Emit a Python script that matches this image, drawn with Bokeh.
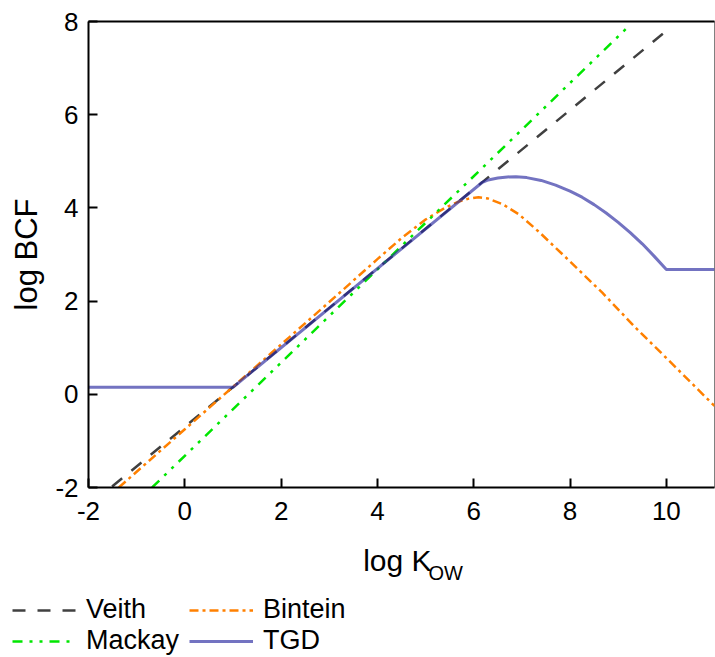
from bokeh.plotting import figure
from bokeh.layouts import column
from bokeh.models import Range1d, LinearAxis, FixedTicker, Legend, LegendItem, Label
from bokeh.embed import file_html
from bokeh.resources import INLINE

# ---- data ----
veith_x = [-1.51, 10.0]
veith_y = [-1.98, 7.80]

mackay_x = [-0.68, 9.21]
mackay_y = [-2.00, 7.89]

bintein_x = [-1.37, 0.0, 1.0, 2.0, 3.0, 4.0, 4.5, 5.0, 5.4, 5.7, 5.9, 6.1, 6.3, 6.6,
             6.94, 7.36, 7.98, 8.67, 9.36, 9.95, 11.0]
bintein_y = [-2.00, -0.75, 0.16, 1.07, 1.98, 2.90, 3.35, 3.75, 4.00, 4.14, 4.20, 4.23, 4.20, 4.08,
             3.86, 3.48, 2.87, 2.18, 1.43, 0.83, -0.25]

tgd_x = [-2.0, 1.0, 6.18, 6.3, 6.5, 6.7, 6.875, 7.1, 7.4, 7.7, 8.0, 8.25, 8.5, 8.75,
         9.0, 9.25, 9.5, 9.75, 10.0, 11.0]
tgd_y = [0.15, 0.15, 4.55, 4.60, 4.64, 4.665, 4.67, 4.65, 4.59, 4.49, 4.36, 4.23, 4.07, 3.89,
         3.69, 3.47, 3.23, 2.96, 2.68, 2.68]

x_ticks = [-2, 0, 2, 4, 6, 8, 10]
y_ticks = [-2, 0, 2, 4, 6, 8]

FONT = "Liberation Sans"

VEITH = dict(line_color="#404040", line_width=2.5, line_dash="13 12")
BINTEIN = dict(line_color="#ff8000", line_width=2.5, line_dash="9 4 3 4")
MACKAY = dict(line_color="#00e600", line_width=2.5, line_dash="10 7 3 7 3 7")
TGD = dict(line_color="#2828a0", line_alpha=0.65, line_width=3)

p = figure(width=715, height=532, x_range=Range1d(-2, 11), y_range=Range1d(-2, 8),
           output_backend="svg", toolbar_location=None,
           min_border_left=88, min_border_right=1, min_border_top=21, min_border_bottom=45)

p.grid.visible = False
p.outline_line_color = "#808080"
p.outline_line_width = 1

for ax in (p.xaxis[0], p.yaxis[0]):
    ax.axis_line_width = 2
    ax.axis_line_color = "black"
    ax.major_tick_in = 9
    ax.major_tick_out = 0
    ax.major_tick_line_width = 2
    ax.major_tick_line_color = "black"
    ax.minor_tick_line_color = None
    ax.major_label_text_font = FONT
    ax.major_label_text_font_size = "26px"
    ax.major_label_text_color = "black"

p.xaxis[0].major_label_standoff = 14
p.yaxis[0].major_label_standoff = 10
p.xaxis[0].ticker = FixedTicker(ticks=x_ticks)
p.yaxis[0].ticker = FixedTicker(ticks=y_ticks)
p.xaxis[0].major_label_overrides = {t: str(t) for t in x_ticks}
p.yaxis[0].major_label_overrides = {t: str(t) for t in y_ticks}

p.yaxis[0].axis_label = "log BCF"
p.yaxis[0].axis_label_text_font = FONT
p.yaxis[0].axis_label_text_font_size = "31px"
p.yaxis[0].axis_label_text_font_style = "normal"
p.yaxis[0].axis_label_text_color = "black"
p.yaxis[0].axis_label_standoff = 8

top = LinearAxis(ticker=FixedTicker(ticks=[]), axis_line_width=2, axis_line_color="black",
                 major_tick_line_color=None, minor_tick_line_color=None,
                 major_label_standoff=0)
p.add_layout(top, "above")

p.line(veith_x, veith_y, **VEITH)
p.line(bintein_x, bintein_y, **BINTEIN)
p.line(mackay_x, mackay_y, **MACKAY)
p.line(tgd_x, tgd_y, **TGD)

# ---- lower panel: x-axis title and legend (pixel coordinates) ----
q = figure(width=715, height=124, x_range=Range1d(0, 715), y_range=Range1d(0, 124),
           output_backend="svg", toolbar_location=None, min_border=0,
           x_axis_location=None, y_axis_location=None)
q.frame_align = False
q.grid.visible = False
q.outline_line_color = None

q.add_layout(Label(x=362.7, y=96, text="log K", text_font=FONT, text_font_size="30px",
                   text_baseline="alphabetic", text_align="left", text_color="black"))
q.add_layout(Label(x=428, y=83.3, text="OW", text_font=FONT, text_font_size="20px",
                   text_baseline="alphabetic", text_align="left", text_color="black"))

# invisible copies of the series, used only for the legend swatches
lv = q.line(veith_x, veith_y, visible=False, **VEITH)
lm = q.line(mackay_x, mackay_y, visible=False, **MACKAY)
lb = q.line(bintein_x, bintein_y, visible=False, **BINTEIN)
lt = q.line(tgd_x, tgd_y, visible=False, **TGD)

legend = Legend(items=[LegendItem(label="Veith", renderers=[lv]),
                       LegendItem(label="Mackay", renderers=[lm]),
                       LegendItem(label="Bintein", renderers=[lb]),
                       LegendItem(label="TGD", renderers=[lt])],
                location=(12, 0), orientation="vertical", nrows=2,
                glyph_width=64, glyph_height=20, label_standoff=10, label_width=103,
                spacing=0, padding=0, margin=0, border_line_color=None,
                background_fill_alpha=0, inactive_fill_alpha=0,
                label_text_font=FONT, label_text_font_size="27px",
                label_text_color="black")
q.add_layout(legend, "center")

open("out.html", "w").write(file_html(column(p, q, spacing=0), INLINE))
